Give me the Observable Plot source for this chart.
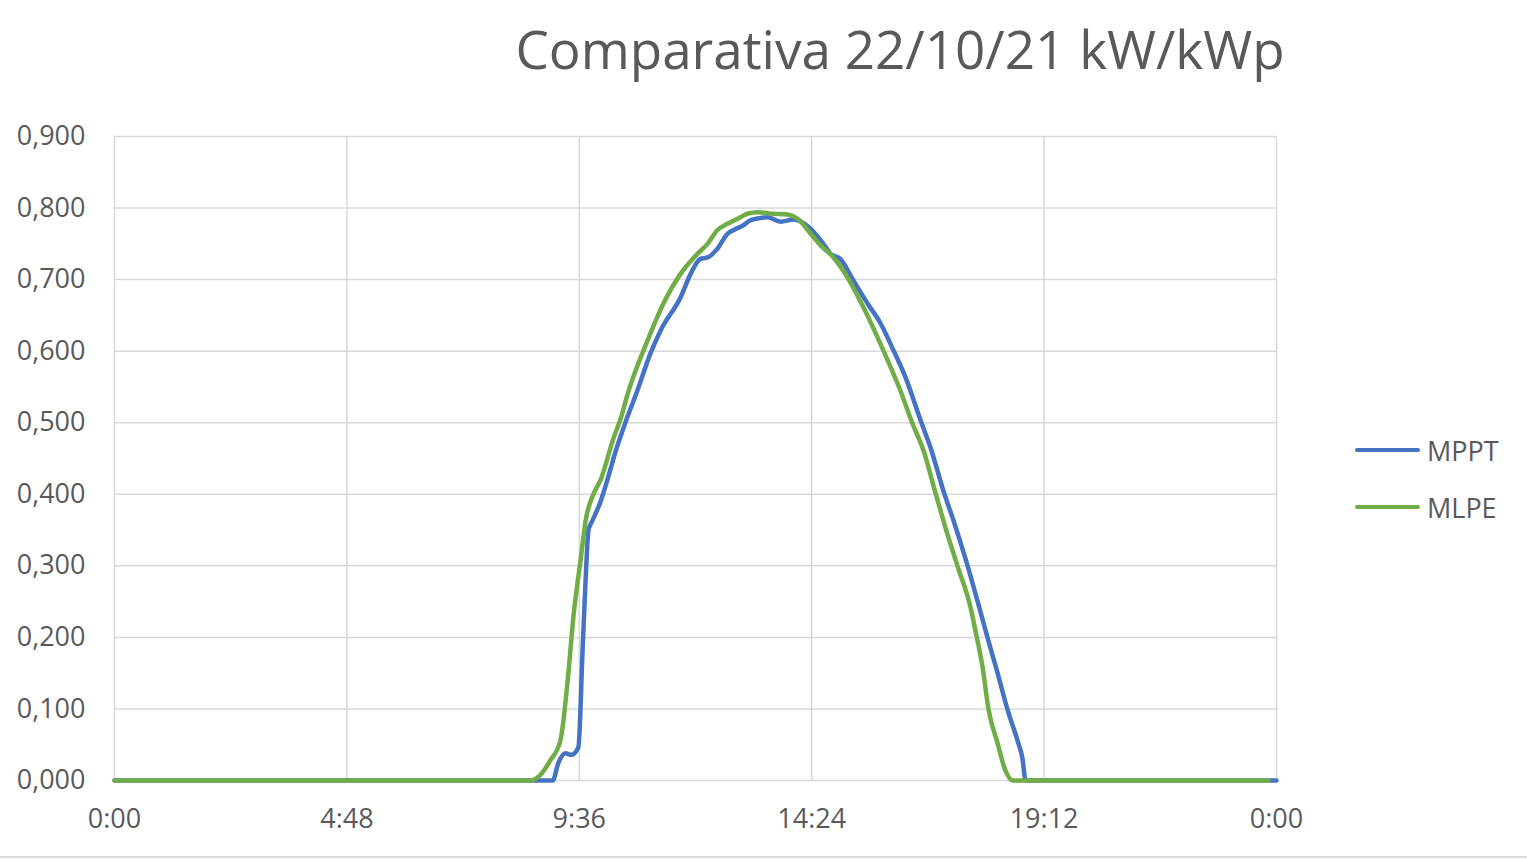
<!DOCTYPE html>
<html>
<head>
<meta charset="utf-8">
<script src="https://cdn.jsdelivr.net/npm/d3@7"></script>
<script src="https://cdn.jsdelivr.net/npm/@observablehq/plot@0.6"></script>
<style>
  html, body { margin: 0; padding: 0; background: #fff; }
  #wrap { position: relative; width: 1527px; height: 859px; overflow: hidden; font-family: "Open Sans", sans-serif; color: #595959; }
  #title { position: absolute; left: 0; width: 1527px; top: 22px; text-align: center; padding-left: 273px; box-sizing: border-box; font-size: 53px; line-height: 1; color: #595959; white-space: nowrap; }
  #chart { position: absolute; left: 0; top: 0; }
  #legend { position: absolute; left: 1355px; top: 430px; font-size: 27px; }
  .item { display: flex; align-items: center; height: 40px; margin-bottom: 17px; }
  .swatch { width: 65px; height: 4px; border-radius: 2px; margin-right: 7px; }
  #border { position: absolute; left: 0; top: 856px; width: 1527px; height: 2px; background: #d9d9d9; }
</style>
</head>
<body>
<div id="wrap">
  <div id="title">Comparativa 22/10/21 kW/kWp</div>
  <div id="chart"></div>
  <div id="legend"></div>
  <div id="border"></div>
</div>
<script>
// Series names and colors
const seriesNames = ["MPPT", "MLPE"];
const seriesColors = ["#4472C4", "#70AD47"];

// X tick positions (hours) and Y ticks
const xTicks = [0, 4.8, 9.6, 14.4, 19.2, 24];
const yTicks = [0, 0.1, 0.2, 0.3, 0.4, 0.5, 0.6, 0.7, 0.8, 0.9];

// MPPT (blue): time in decimal hours, value kW/kWp
const mpptHours = [0, 9.05, 9.17, 9.31, 9.44, 9.58, 9.67, 9.73, 9.79, 9.87, 10.04, 10.18, 10.35, 10.55, 10.80, 11.07, 11.28, 11.69, 11.90, 12.10, 12.25, 12.45, 12.66, 12.78, 12.99, 13.14, 13.49, 13.76, 14.02, 14.38, 14.64, 14.79, 14.99, 15.26, 15.55, 15.82, 16.09, 16.34, 16.65, 16.85, 17.12, 17.33, 17.62, 17.82, 18.03, 18.24, 18.44, 18.65, 18.75, 18.82, 24];
const mpptValues = [0, 0, 0.025, 0.038, 0.036, 0.046, 0.186, 0.280, 0.350, 0.363, 0.390, 0.420, 0.460, 0.500, 0.545, 0.597, 0.629, 0.675, 0.708, 0.729, 0.731, 0.743, 0.764, 0.769, 0.776, 0.783, 0.787, 0.781, 0.784, 0.771, 0.750, 0.736, 0.729, 0.699, 0.667, 0.639, 0.601, 0.563, 0.503, 0.466, 0.405, 0.363, 0.300, 0.252, 0.200, 0.150, 0.100, 0.056, 0.032, 0, 0];

// MLPE (green)
const mlpeHours = [0, 8.59, 8.80, 9.00, 9.21, 9.36, 9.48, 9.63, 9.73, 9.89, 10.04, 10.29, 10.45, 10.62, 11.01, 11.34, 11.69, 12.04, 12.25, 12.45, 12.66, 12.87, 13.07, 13.28, 13.61, 13.90, 14.11, 14.38, 14.58, 14.85, 15.14, 15.47, 15.88, 16.23, 16.48, 16.71, 16.96, 17.20, 17.41, 17.68, 17.78, 17.93, 18.05, 18.24, 18.40, 18.55, 23.83];
const mlpeValues = [0, 0, 0.008, 0.028, 0.056, 0.140, 0.230, 0.310, 0.363, 0.400, 0.420, 0.475, 0.505, 0.545, 0.615, 0.667, 0.708, 0.736, 0.750, 0.769, 0.778, 0.785, 0.792, 0.794, 0.792, 0.791, 0.785, 0.764, 0.748, 0.731, 0.703, 0.661, 0.601, 0.545, 0.499, 0.461, 0.401, 0.345, 0.300, 0.242, 0.210, 0.158, 0.100, 0.052, 0.014, 0, 0];

const rows = [
  ...mpptHours.map((h, i) => ({series: "MPPT", h, v: mpptValues[i]})),
  ...mlpeHours.map((h, i) => ({series: "MLPE", h, v: mlpeValues[i]}))
];

const fmtTime = h => {
  const hh = Math.floor(h + 1e-9) % 24;
  const mm = Math.round((h - Math.floor(h + 1e-9)) * 60);
  return `${hh}:${String(mm).padStart(2, "0")}`;
};
const fmtVal = v => d3.format(".3f")(v).replace(".", ",");

const plot = Plot.plot({
  width: 1527,
  height: 859,
  marginLeft: 114,
  marginRight: 251,
  marginTop: 136,
  marginBottom: 79,
  style: {fontFamily: "Open Sans, sans-serif", fontSize: "27px", color: "#595959", background: "transparent"},
  x: {domain: [0, 24], ticks: xTicks, tickFormat: fmtTime, label: null},
  y: {domain: [0, 0.9], ticks: yTicks, tickFormat: fmtVal, label: null},
  color: {domain: seriesNames, range: seriesColors},
  marks: [
    Plot.gridX(xTicks, {stroke: "#d9d9d9", strokeOpacity: 1, strokeWidth: 1.5}),
    Plot.gridY(yTicks, {stroke: "#d9d9d9", strokeOpacity: 1, strokeWidth: 1.5}),
    Plot.axisX({ticks: xTicks, tickFormat: fmtTime, tickSize: 0, tickPadding: 28, fontSize: 27}),
    Plot.axisY({ticks: yTicks, tickFormat: fmtVal, tickSize: 0, tickPadding: 29, fontSize: 27}),
    Plot.line(rows, {x: "h", y: "v", z: "series", stroke: "series", strokeWidth: 4.5, curve: "monotone-x", strokeLinejoin: "round", strokeLinecap: "round"})
  ]
});
document.getElementById("chart").appendChild(plot);

const legend = document.getElementById("legend");
seriesNames.forEach((name, i) => {
  const item = document.createElement("div");
  item.className = "item";
  item.innerHTML = `<div class="swatch" style="background:${seriesColors[i]}"></div><span>${name}</span>`;
  legend.appendChild(item);
});
</script>
</body>
</html>
